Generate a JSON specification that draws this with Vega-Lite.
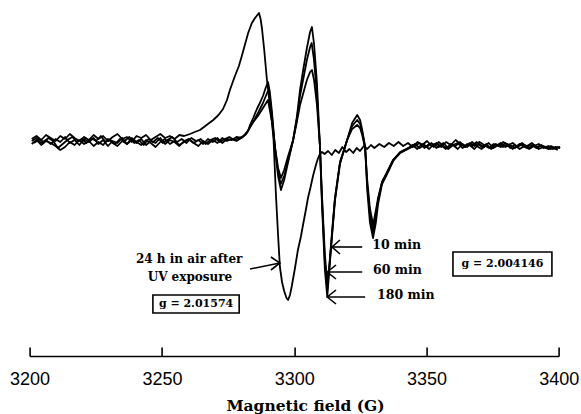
{
  "$schema": "https://vega.github.io/schema/vega-lite/v6.json",
  "width": 529.2,
  "height": 356,
  "autosize": "none",
  "padding": {"left": 29.6, "right": 22.2, "top": 0, "bottom": 58},
  "background": "white",
  "config": {"view": {"stroke": null}},
  "datasets": {
    "spec": [
      {"s":"24 h","B":3200.8,"I":1},{"s":"24 h","B":3202.6,"I":4},{"s":"24 h","B":3204.4,"I":0},{"s":"24 h","B":3206.2,"I":5},{"s":"24 h","B":3208.0,"I":2},{"s":"24 h","B":3209.8,"I":-1},{"s":"24 h","B":3211.6,"I":4},{"s":"24 h","B":3213.4,"I":1},{"s":"24 h","B":3215.2,"I":6},{"s":"24 h","B":3217.0,"I":2},{"s":"24 h","B":3218.8,"I":-1},{"s":"24 h","B":3220.6,"I":3},{"s":"24 h","B":3222.4,"I":0},{"s":"24 h","B":3224.2,"I":5},{"s":"24 h","B":3226.0,"I":1},{"s":"24 h","B":3227.8,"I":4},{"s":"24 h","B":3229.6,"I":-1},{"s":"24 h","B":3231.4,"I":3},{"s":"24 h","B":3233.2,"I":6},{"s":"24 h","B":3235.0,"I":1},{"s":"24 h","B":3236.8,"I":3},{"s":"24 h","B":3238.6,"I":-2},{"s":"24 h","B":3240.4,"I":4},{"s":"24 h","B":3242.2,"I":2},{"s":"24 h","B":3244.0,"I":5},{"s":"24 h","B":3245.8,"I":0},{"s":"24 h","B":3247.6,"I":3},{"s":"24 h","B":3249.4,"I":6},{"s":"24 h","B":3251.2,"I":2},{"s":"24 h","B":3253.0,"I":4},{"s":"24 h","B":3254.8,"I":1},{"s":"24 h","B":3256.6,"I":5},{"s":"24 h","B":3258.4,"I":4},
      {"s":"24 h","B":3260.6,"I":6},{"s":"24 h","B":3262.4,"I":8},{"s":"24 h","B":3264.4,"I":10},{"s":"24 h","B":3266.9,"I":15},{"s":"24 h","B":3269.4,"I":20},{"s":"24 h","B":3271.4,"I":25},{"s":"24 h","B":3273.1,"I":31},{"s":"24 h","B":3274.6,"I":40},{"s":"24 h","B":3275.7,"I":50},{"s":"24 h","B":3277.6,"I":64},{"s":"24 h","B":3279.1,"I":74},{"s":"24 h","B":3280.2,"I":84},{"s":"24 h","B":3282.6,"I":107},{"s":"24 h","B":3284.0,"I":117},{"s":"24 h","B":3285.2,"I":122},{"s":"24 h","B":3286.1,"I":125},{"s":"24 h","B":3286.7,"I":127},{"s":"24 h","B":3287.3,"I":121},{"s":"24 h","B":3287.8,"I":112},{"s":"24 h","B":3288.6,"I":92},{"s":"24 h","B":3289.7,"I":60},{"s":"24 h","B":3290.8,"I":35},{"s":"24 h","B":3291.6,"I":18},{"s":"24 h","B":3292.2,"I":0},{"s":"24 h","B":3293.1,"I":-55},{"s":"24 h","B":3293.9,"I":-95},{"s":"24 h","B":3294.6,"I":-127},{"s":"24 h","B":3295.4,"I":-142},{"s":"24 h","B":3296.2,"I":-151},{"s":"24 h","B":3297.1,"I":-158},{"s":"24 h","B":3297.7,"I":-160},{"s":"24 h","B":3298.4,"I":-155},{"s":"24 h","B":3299.1,"I":-146},{"s":"24 h","B":3300.3,"I":-128},{"s":"24 h","B":3301.4,"I":-110},{"s":"24 h","B":3302.5,"I":-97},{"s":"24 h","B":3303.4,"I":-84},{"s":"24 h","B":3304.4,"I":-70},{"s":"24 h","B":3305.2,"I":-58},{"s":"24 h","B":3306.2,"I":-47},{"s":"24 h","B":3307.1,"I":-36},{"s":"24 h","B":3308.0,"I":-27},{"s":"24 h","B":3308.9,"I":-19},{"s":"24 h","B":3309.7,"I":-14},{"s":"24 h","B":3310.5,"I":-12},
      {"s":"24 h","B":3311.5,"I":-14},{"s":"24 h","B":3312.8,"I":-11},{"s":"24 h","B":3314.2,"I":-15},{"s":"24 h","B":3315.5,"I":-10},{"s":"24 h","B":3316.9,"I":-13},{"s":"24 h","B":3318.2,"I":-7},{"s":"24 h","B":3319.6,"I":-12},{"s":"24 h","B":3320.9,"I":-9},{"s":"24 h","B":3322.3,"I":-13},{"s":"24 h","B":3323.6,"I":-8},{"s":"24 h","B":3324.9,"I":-11},{"s":"24 h","B":3326.3,"I":-6},{"s":"24 h","B":3327.6,"I":-9},{"s":"24 h","B":3329.0,"I":-5},{"s":"24 h","B":3330.3,"I":-8},
      {"s":"24 h","B":3332.2,"I":-4},{"s":"24 h","B":3334.0,"I":-7},{"s":"24 h","B":3335.8,"I":-3},{"s":"24 h","B":3337.6,"I":-6},{"s":"24 h","B":3339.4,"I":-2},{"s":"24 h","B":3341.2,"I":-6},{"s":"24 h","B":3343.0,"I":-3},{"s":"24 h","B":3344.8,"I":-7},{"s":"24 h","B":3346.6,"I":-2},{"s":"24 h","B":3348.4,"I":-5},{"s":"24 h","B":3350.2,"I":-1},{"s":"24 h","B":3352.0,"I":-6},{"s":"24 h","B":3353.8,"I":-3},{"s":"24 h","B":3355.6,"I":-7},{"s":"24 h","B":3357.4,"I":-2},{"s":"24 h","B":3359.2,"I":-5},{"s":"24 h","B":3361.0,"I":0},{"s":"24 h","B":3362.8,"I":-4},{"s":"24 h","B":3364.6,"I":-7},{"s":"24 h","B":3366.4,"I":-3},{"s":"24 h","B":3368.2,"I":-6},{"s":"24 h","B":3370.0,"I":-2},{"s":"24 h","B":3371.8,"I":-5},{"s":"24 h","B":3373.6,"I":-8},{"s":"24 h","B":3375.4,"I":-4},{"s":"24 h","B":3377.2,"I":-6},{"s":"24 h","B":3379.0,"I":-2},{"s":"24 h","B":3380.8,"I":-5},{"s":"24 h","B":3382.6,"I":-3},{"s":"24 h","B":3384.4,"I":-7},{"s":"24 h","B":3386.2,"I":-4},{"s":"24 h","B":3388.0,"I":-6},{"s":"24 h","B":3389.8,"I":-3},{"s":"24 h","B":3391.6,"I":-7},{"s":"24 h","B":3393.4,"I":-5},{"s":"24 h","B":3395.2,"I":-8},{"s":"24 h","B":3397.0,"I":-6},{"s":"24 h","B":3398.8,"I":-8},{"s":"24 h","B":3400.5,"I":-7},

      {"s":"10 min","B":3201.7,"I":-3},{"s":"10 min","B":3203.5,"I":1},{"s":"10 min","B":3205.3,"I":-2},{"s":"10 min","B":3207.1,"I":2},{"s":"10 min","B":3208.9,"I":-1},{"s":"10 min","B":3210.7,"I":-8},{"s":"10 min","B":3212.5,"I":-4},{"s":"10 min","B":3214.3,"I":0},{"s":"10 min","B":3216.1,"I":3},{"s":"10 min","B":3217.9,"I":-2},{"s":"10 min","B":3219.7,"I":1},{"s":"10 min","B":3221.5,"I":-3},{"s":"10 min","B":3223.3,"I":2},{"s":"10 min","B":3225.1,"I":-1},{"s":"10 min","B":3226.9,"I":4},{"s":"10 min","B":3228.7,"I":-2},{"s":"10 min","B":3230.5,"I":0},{"s":"10 min","B":3232.3,"I":-4},{"s":"10 min","B":3234.1,"I":1},{"s":"10 min","B":3235.9,"I":-1},{"s":"10 min","B":3237.7,"I":3},{"s":"10 min","B":3239.5,"I":-3},{"s":"10 min","B":3241.3,"I":0},{"s":"10 min","B":3243.1,"I":-5},{"s":"10 min","B":3244.9,"I":1},{"s":"10 min","B":3246.7,"I":-2},{"s":"10 min","B":3248.5,"I":2},{"s":"10 min","B":3250.3,"I":-3},{"s":"10 min","B":3252.1,"I":0},{"s":"10 min","B":3253.9,"I":3},{"s":"10 min","B":3255.7,"I":-2},{"s":"10 min","B":3257.5,"I":1},{"s":"10 min","B":3259.3,"I":-3},{"s":"10 min","B":3261.1,"I":2},{"s":"10 min","B":3262.9,"I":-1},{"s":"10 min","B":3264.7,"I":1},{"s":"10 min","B":3266.5,"I":-4},{"s":"10 min","B":3268.3,"I":0},{"s":"10 min","B":3270.1,"I":2},{"s":"10 min","B":3271.9,"I":-2},{"s":"10 min","B":3273.7,"I":1},{"s":"10 min","B":3275.5,"I":3},{"s":"10 min","B":3277.3,"I":0},{"s":"10 min","B":3279.1,"I":2},{"s":"10 min","B":3280.9,"I":4},
      {"s":"10 min","B":3282.7,"I":10},{"s":"10 min","B":3284.5,"I":18},{"s":"10 min","B":3286.3,"I":24},{"s":"10 min","B":3288.2,"I":32},{"s":"10 min","B":3290.1,"I":40},{"s":"10 min","B":3291.6,"I":18},{"s":"10 min","B":3292.8,"I":-8},{"s":"10 min","B":3293.9,"I":-28},{"s":"10 min","B":3295.0,"I":-38},{"s":"10 min","B":3296.2,"I":-30},{"s":"10 min","B":3297.7,"I":-16},{"s":"10 min","B":3299.6,"I":0},{"s":"10 min","B":3301.0,"I":18},{"s":"10 min","B":3302.2,"I":35},{"s":"10 min","B":3304.8,"I":60},{"s":"10 min","B":3306.0,"I":68},{"s":"10 min","B":3306.7,"I":70},{"s":"10 min","B":3307.5,"I":60},{"s":"10 min","B":3308.6,"I":35},{"s":"10 min","B":3309.7,"I":-5},{"s":"10 min","B":3310.5,"I":-55},{"s":"10 min","B":3311.6,"I":-115},{"s":"10 min","B":3312.5,"I":-142},{"s":"10 min","B":3313.2,"I":-128},{"s":"10 min","B":3314.3,"I":-92},{"s":"10 min","B":3315.4,"I":-58},{"s":"10 min","B":3317.3,"I":-22},{"s":"10 min","B":3320.0,"I":0},{"s":"10 min","B":3321.9,"I":11},{"s":"10 min","B":3323.8,"I":15},{"s":"10 min","B":3324.9,"I":12},{"s":"10 min","B":3325.7,"I":5},{"s":"10 min","B":3326.8,"I":-8},{"s":"10 min","B":3327.6,"I":-40},{"s":"10 min","B":3328.6,"I":-68},{"s":"10 min","B":3329.8,"I":-85},{"s":"10 min","B":3330.9,"I":-70},{"s":"10 min","B":3331.7,"I":-58},{"s":"10 min","B":3333.2,"I":-42},{"s":"10 min","B":3335.1,"I":-32},{"s":"10 min","B":3337.4,"I":-20},{"s":"10 min","B":3340.0,"I":-13},{"s":"10 min","B":3343.8,"I":-8},
      {"s":"10 min","B":3345.6,"I":-4},{"s":"10 min","B":3347.4,"I":-8},{"s":"10 min","B":3349.2,"I":-5},{"s":"10 min","B":3351.0,"I":-9},{"s":"10 min","B":3352.8,"I":-4},{"s":"10 min","B":3354.6,"I":-7},{"s":"10 min","B":3356.4,"I":-3},{"s":"10 min","B":3358.2,"I":-8},{"s":"10 min","B":3360.0,"I":-5},{"s":"10 min","B":3361.8,"I":-9},{"s":"10 min","B":3363.6,"I":-4},{"s":"10 min","B":3365.4,"I":-7},{"s":"10 min","B":3367.2,"I":-2},{"s":"10 min","B":3369.0,"I":-6},{"s":"10 min","B":3370.8,"I":-9},{"s":"10 min","B":3372.6,"I":-5},{"s":"10 min","B":3374.4,"I":-8},{"s":"10 min","B":3376.2,"I":-4},{"s":"10 min","B":3378.0,"I":-7},{"s":"10 min","B":3379.8,"I":-3},{"s":"10 min","B":3381.6,"I":-8},{"s":"10 min","B":3383.4,"I":-5},{"s":"10 min","B":3385.2,"I":-9},{"s":"10 min","B":3387.0,"I":-6},{"s":"10 min","B":3388.8,"I":-8},{"s":"10 min","B":3390.6,"I":-5},{"s":"10 min","B":3392.4,"I":-9},{"s":"10 min","B":3394.2,"I":-7},{"s":"10 min","B":3396.0,"I":-9},{"s":"10 min","B":3397.8,"I":-8},{"s":"10 min","B":3399.6,"I":-10},

      {"s":"60 min","B":3200.8,"I":-4},{"s":"60 min","B":3202.6,"I":0},{"s":"60 min","B":3204.4,"I":-5},{"s":"60 min","B":3206.2,"I":-1},{"s":"60 min","B":3208.0,"I":-3},{"s":"60 min","B":3209.8,"I":-6},{"s":"60 min","B":3211.6,"I":-10},{"s":"60 min","B":3213.4,"I":-7},{"s":"60 min","B":3215.2,"I":-2},{"s":"60 min","B":3217.0,"I":-5},{"s":"60 min","B":3218.8,"I":0},{"s":"60 min","B":3220.6,"I":-4},{"s":"60 min","B":3222.4,"I":-1},{"s":"60 min","B":3224.2,"I":-6},{"s":"60 min","B":3226.0,"I":-2},{"s":"60 min","B":3227.8,"I":-5},{"s":"60 min","B":3229.6,"I":1},{"s":"60 min","B":3231.4,"I":-3},{"s":"60 min","B":3233.2,"I":-6},{"s":"60 min","B":3235.0,"I":-1},{"s":"60 min","B":3236.8,"I":-4},{"s":"60 min","B":3238.6,"I":2},{"s":"60 min","B":3240.4,"I":-2},{"s":"60 min","B":3242.2,"I":-5},{"s":"60 min","B":3244.0,"I":0},{"s":"60 min","B":3245.8,"I":-3},{"s":"60 min","B":3247.6,"I":-7},{"s":"60 min","B":3249.4,"I":-2},{"s":"60 min","B":3251.2,"I":1},{"s":"60 min","B":3253.0,"I":-4},{"s":"60 min","B":3254.8,"I":-1},{"s":"60 min","B":3256.6,"I":-5},{"s":"60 min","B":3258.4,"I":-2},{"s":"60 min","B":3260.2,"I":1},{"s":"60 min","B":3262.0,"I":-3},{"s":"60 min","B":3263.8,"I":-6},{"s":"60 min","B":3265.6,"I":-1},{"s":"60 min","B":3267.4,"I":-4},{"s":"60 min","B":3269.2,"I":0},{"s":"60 min","B":3271.0,"I":-3},{"s":"60 min","B":3272.8,"I":2},{"s":"60 min","B":3274.6,"I":-1},{"s":"60 min","B":3276.4,"I":1},{"s":"60 min","B":3278.2,"I":-1},{"s":"60 min","B":3280.0,"I":2},
      {"s":"60 min","B":3281.8,"I":6},{"s":"60 min","B":3283.3,"I":13},{"s":"60 min","B":3284.9,"I":20},{"s":"60 min","B":3286.5,"I":28},{"s":"60 min","B":3288.2,"I":37},{"s":"60 min","B":3289.9,"I":48},{"s":"60 min","B":3290.4,"I":50},{"s":"60 min","B":3291.6,"I":24},{"s":"60 min","B":3292.8,"I":-9},{"s":"60 min","B":3293.9,"I":-32},{"s":"60 min","B":3294.9,"I":-44},{"s":"60 min","B":3296.2,"I":-36},{"s":"60 min","B":3297.7,"I":-20},{"s":"60 min","B":3299.6,"I":0},{"s":"60 min","B":3301.0,"I":21},{"s":"60 min","B":3302.2,"I":44},{"s":"60 min","B":3304.8,"I":80},{"s":"60 min","B":3306.0,"I":93},{"s":"60 min","B":3306.6,"I":97},{"s":"60 min","B":3307.4,"I":82},{"s":"60 min","B":3308.6,"I":45},{"s":"60 min","B":3309.7,"I":-5},{"s":"60 min","B":3310.5,"I":-60},{"s":"60 min","B":3311.6,"I":-122},{"s":"60 min","B":3312.5,"I":-150},{"s":"60 min","B":3313.2,"I":-130},{"s":"60 min","B":3314.3,"I":-94},{"s":"60 min","B":3315.4,"I":-59},{"s":"60 min","B":3317.3,"I":-23},{"s":"60 min","B":3320.0,"I":0},{"s":"60 min","B":3321.9,"I":14},{"s":"60 min","B":3323.8,"I":20},{"s":"60 min","B":3324.9,"I":16},{"s":"60 min","B":3325.7,"I":8},{"s":"60 min","B":3326.8,"I":-7},{"s":"60 min","B":3327.6,"I":-45},{"s":"60 min","B":3328.6,"I":-74},{"s":"60 min","B":3329.8,"I":-92},{"s":"60 min","B":3330.9,"I":-75},{"s":"60 min","B":3331.7,"I":-60},{"s":"60 min","B":3333.2,"I":-42},{"s":"60 min","B":3335.1,"I":-33},{"s":"60 min","B":3337.4,"I":-20},{"s":"60 min","B":3340.0,"I":-12},{"s":"60 min","B":3343.8,"I":-7},
      {"s":"60 min","B":3344.7,"I":-5},{"s":"60 min","B":3346.5,"I":-9},{"s":"60 min","B":3348.3,"I":-4},{"s":"60 min","B":3350.1,"I":-7},{"s":"60 min","B":3351.9,"I":-3},{"s":"60 min","B":3353.7,"I":-8},{"s":"60 min","B":3355.5,"I":-5},{"s":"60 min","B":3357.3,"I":-9},{"s":"60 min","B":3359.1,"I":-4},{"s":"60 min","B":3360.9,"I":-6},{"s":"60 min","B":3362.7,"I":-2},{"s":"60 min","B":3364.5,"I":-7},{"s":"60 min","B":3366.3,"I":-5},{"s":"60 min","B":3368.1,"I":-9},{"s":"60 min","B":3369.9,"I":-4},{"s":"60 min","B":3371.7,"I":-7},{"s":"60 min","B":3373.5,"I":-3},{"s":"60 min","B":3375.3,"I":-8},{"s":"60 min","B":3377.1,"I":-5},{"s":"60 min","B":3378.9,"I":-7},{"s":"60 min","B":3380.7,"I":-4},{"s":"60 min","B":3382.5,"I":-9},{"s":"60 min","B":3384.3,"I":-6},{"s":"60 min","B":3386.1,"I":-3},{"s":"60 min","B":3387.9,"I":-7},{"s":"60 min","B":3389.7,"I":-5},{"s":"60 min","B":3391.5,"I":-8},{"s":"60 min","B":3393.3,"I":-6},{"s":"60 min","B":3395.1,"I":-7},{"s":"60 min","B":3396.9,"I":-9},{"s":"60 min","B":3398.7,"I":-7},{"s":"60 min","B":3400.5,"I":-8},

      {"s":"180 min","B":3200.8,"I":-1},{"s":"180 min","B":3202.6,"I":2},{"s":"180 min","B":3204.4,"I":-3},{"s":"180 min","B":3206.2,"I":0},{"s":"180 min","B":3208.0,"I":-4},{"s":"180 min","B":3209.8,"I":1},{"s":"180 min","B":3211.6,"I":-2},{"s":"180 min","B":3213.4,"I":3},{"s":"180 min","B":3215.2,"I":-3},{"s":"180 min","B":3217.0,"I":0},{"s":"180 min","B":3218.8,"I":-5},{"s":"180 min","B":3220.6,"I":1},{"s":"180 min","B":3222.4,"I":-2},{"s":"180 min","B":3224.2,"I":2},{"s":"180 min","B":3226.0,"I":-4},{"s":"180 min","B":3227.8,"I":0},{"s":"180 min","B":3229.6,"I":-6},{"s":"180 min","B":3231.4,"I":-1},{"s":"180 min","B":3233.2,"I":-3},{"s":"180 min","B":3235.0,"I":2},{"s":"180 min","B":3236.8,"I":-4},{"s":"180 min","B":3238.6,"I":0},{"s":"180 min","B":3240.4,"I":-3},{"s":"180 min","B":3242.2,"I":1},{"s":"180 min","B":3244.0,"I":-5},{"s":"180 min","B":3245.8,"I":-1},{"s":"180 min","B":3247.6,"I":-3},{"s":"180 min","B":3249.4,"I":2},{"s":"180 min","B":3251.2,"I":-4},{"s":"180 min","B":3253.0,"I":0},{"s":"180 min","B":3254.8,"I":-2},{"s":"180 min","B":3256.6,"I":-6},{"s":"180 min","B":3258.4,"I":-1},{"s":"180 min","B":3260.2,"I":1},{"s":"180 min","B":3262.0,"I":-3},{"s":"180 min","B":3263.8,"I":0},{"s":"180 min","B":3265.6,"I":-4},{"s":"180 min","B":3267.4,"I":1},{"s":"180 min","B":3269.2,"I":-2},{"s":"180 min","B":3271.0,"I":2},{"s":"180 min","B":3272.8,"I":-3},{"s":"180 min","B":3274.6,"I":1},{"s":"180 min","B":3276.4,"I":0},{"s":"180 min","B":3278.2,"I":3},{"s":"180 min","B":3280.0,"I":2},
      {"s":"180 min","B":3281.8,"I":6},{"s":"180 min","B":3282.6,"I":9},{"s":"180 min","B":3283.3,"I":15},{"s":"180 min","B":3284.5,"I":22},{"s":"180 min","B":3285.9,"I":31},{"s":"180 min","B":3287.2,"I":38},{"s":"180 min","B":3288.2,"I":44},{"s":"180 min","B":3289.2,"I":52},{"s":"180 min","B":3290.1,"I":58},{"s":"180 min","B":3290.8,"I":48},{"s":"180 min","B":3291.6,"I":28},{"s":"180 min","B":3292.8,"I":-10},{"s":"180 min","B":3293.9,"I":-36},{"s":"180 min","B":3295.0,"I":-50},{"s":"180 min","B":3296.2,"I":-40},{"s":"180 min","B":3297.7,"I":-22},{"s":"180 min","B":3299.6,"I":0},{"s":"180 min","B":3301.0,"I":23},{"s":"180 min","B":3302.2,"I":50},{"s":"180 min","B":3303.4,"I":70},{"s":"180 min","B":3304.8,"I":92},{"s":"180 min","B":3306.0,"I":108},{"s":"180 min","B":3306.7,"I":113},{"s":"180 min","B":3307.5,"I":96},{"s":"180 min","B":3308.6,"I":57},{"s":"180 min","B":3309.7,"I":-5},{"s":"180 min","B":3310.5,"I":-65},{"s":"180 min","B":3311.6,"I":-130},{"s":"180 min","B":3312.5,"I":-157},{"s":"180 min","B":3313.2,"I":-132},{"s":"180 min","B":3314.3,"I":-96},{"s":"180 min","B":3315.4,"I":-61},{"s":"180 min","B":3317.3,"I":-24},{"s":"180 min","B":3320.0,"I":0},{"s":"180 min","B":3321.9,"I":17},{"s":"180 min","B":3323.8,"I":25},{"s":"180 min","B":3324.9,"I":20},{"s":"180 min","B":3325.7,"I":10},{"s":"180 min","B":3326.8,"I":-7},{"s":"180 min","B":3327.6,"I":-50},{"s":"180 min","B":3328.6,"I":-82},{"s":"180 min","B":3329.8,"I":-98},{"s":"180 min","B":3330.9,"I":-82},{"s":"180 min","B":3331.7,"I":-64},{"s":"180 min","B":3333.2,"I":-44},{"s":"180 min","B":3335.1,"I":-34},{"s":"180 min","B":3337.4,"I":-21},{"s":"180 min","B":3340.0,"I":-13},{"s":"180 min","B":3343.8,"I":-7},
      {"s":"180 min","B":3345.6,"I":-6},{"s":"180 min","B":3347.4,"I":-3},{"s":"180 min","B":3349.2,"I":-8},{"s":"180 min","B":3351.0,"I":-4},{"s":"180 min","B":3352.8,"I":-7},{"s":"180 min","B":3354.6,"I":-2},{"s":"180 min","B":3356.4,"I":-6},{"s":"180 min","B":3358.2,"I":-9},{"s":"180 min","B":3360.0,"I":-5},{"s":"180 min","B":3361.8,"I":-3},{"s":"180 min","B":3363.6,"I":-8},{"s":"180 min","B":3365.4,"I":-4},{"s":"180 min","B":3367.2,"I":-6},{"s":"180 min","B":3369.0,"I":-2},{"s":"180 min","B":3370.8,"I":-7},{"s":"180 min","B":3372.6,"I":-4},{"s":"180 min","B":3374.4,"I":-9},{"s":"180 min","B":3376.2,"I":-6},{"s":"180 min","B":3378.0,"I":-3},{"s":"180 min","B":3379.8,"I":-7},{"s":"180 min","B":3381.6,"I":-5},{"s":"180 min","B":3383.4,"I":-8},{"s":"180 min","B":3385.2,"I":-4},{"s":"180 min","B":3387.0,"I":-7},{"s":"180 min","B":3388.8,"I":-9},{"s":"180 min","B":3390.6,"I":-6},{"s":"180 min","B":3392.4,"I":-4},{"s":"180 min","B":3394.2,"I":-8},{"s":"180 min","B":3396.0,"I":-6},{"s":"180 min","B":3397.8,"I":-9},{"s":"180 min","B":3399.6,"I":-7}
    ],
    "arrows": [
      {"id":"a1s","o":0,"B":3283.3,"I":-129},{"id":"a1s","o":1,"B":3294.6,"I":-123},
      {"id":"a1h","o":0,"B":3291.2,"I":-117},{"id":"a1h","o":1,"B":3294.6,"I":-123},{"id":"a1h","o":2,"B":3291.2,"I":-130},
      {"id":"a2s","o":0,"B":3325.7,"I":-107},{"id":"a2s","o":1,"B":3314.3,"I":-107},
      {"id":"a2h","o":0,"B":3317.3,"I":-100},{"id":"a2h","o":1,"B":3314.3,"I":-107},{"id":"a2h","o":2,"B":3317.3,"I":-114},
      {"id":"a3s","o":0,"B":3325.7,"I":-132},{"id":"a3s","o":1,"B":3312.5,"I":-132},
      {"id":"a3h","o":0,"B":3315.8,"I":-125},{"id":"a3h","o":1,"B":3312.5,"I":-132},{"id":"a3h","o":2,"B":3315.8,"I":-139},
      {"id":"a4s","o":0,"B":3326.8,"I":-157},{"id":"a4s","o":1,"B":3312.5,"I":-157},
      {"id":"a4h","o":0,"B":3315.8,"I":-150},{"id":"a4h","o":1,"B":3312.5,"I":-157},{"id":"a4h","o":2,"B":3315.8,"I":-164}
    ],
    "boxes": [
      {"B":3246.6,"B2":3279.2,"I":-155,"I2":-173},
      {"B":3360.0,"B2":3397.4,"I":-112,"I2":-136}
    ],
    "ctext": [
      {"B":3260.3,"I":-119,"t":"24 h in air after"},
      {"B":3260.6,"I":-137,"t":"UV exposure"}
    ],
    "btext": [
      {"B":3262.9,"I":-164,"t":"g = 2.01574"},
      {"B":3378.7,"I":-124,"t":"g = 2.004146"}
    ],
    "ltext": [
      {"B":3329.5,"I":-105,"t":"10 min"},
      {"B":3329.8,"I":-130,"t":"60 min"},
      {"B":3331.3,"I":-155,"t":"180 min"}
    ]
  },
  "encoding": {
    "x": {"field":"B","type":"quantitative","scale":{"domain":[3200,3400],"nice":false,"zero":false},
      "axis":{"values":[3200,3250,3300,3350,3400],"format":"d","grid":false,"domain":true,"domainColor":"black","domainWidth":1.6,
        "ticks":true,"tickSize":-9,"tickColor":"black","tickWidth":1.6,"labelPadding":23,
        "labelFont":"Liberation Sans","labelFontSize":18,"labelColor":"black","labelFlush":false,
        "title":"Magnetic field (G)","titleFont":"DejaVu Serif","titleFontSize":15.5,"titleFontWeight":"bold","titleColor":"black",
        "titleX":275.4,"titleY":54,"titleBaseline":"alphabetic","titleAnchor":"middle","titleAlign":"center"}},
    "y": {"field":"I","type":"quantitative","scale":{"domain":[-216,140],"nice":false,"zero":false},"axis":null}
  },
  "layer": [
    {"data":{"name":"spec"},"mark":{"type":"line","color":"black","strokeWidth":1.8,"clip":false,"strokeJoin":"round"},
      "encoding":{"detail":{"field":"s","type":"nominal"}}},
    {"data":{"name":"arrows"},"mark":{"type":"line","color":"black","strokeWidth":1.6,"clip":false},
      "encoding":{"detail":{"field":"id","type":"nominal"},"order":{"field":"o","type":"quantitative"}}},
    {"data":{"name":"boxes"},"mark":{"type":"rect","fill":"white","stroke":"black","strokeWidth":1.6,"clip":false},
      "encoding":{"x2":{"field":"B2"},"y2":{"field":"I2"}}},
    {"data":{"name":"ctext"},"mark":{"type":"text","align":"center","baseline":"middle","font":"DejaVu Serif","fontWeight":"bold","fontSize":12,"color":"black","clip":false},
      "encoding":{"text":{"field":"t"}}},
    {"data":{"name":"btext"},"mark":{"type":"text","align":"center","baseline":"middle","font":"DejaVu Serif","fontWeight":"bold","fontSize":11,"color":"black","clip":false},
      "encoding":{"text":{"field":"t"}}},
    {"data":{"name":"ltext"},"mark":{"type":"text","align":"left","baseline":"middle","font":"DejaVu Serif","fontWeight":"bold","fontSize":12.5,"color":"black","clip":false},
      "encoding":{"text":{"field":"t"}}}
  ]
}
